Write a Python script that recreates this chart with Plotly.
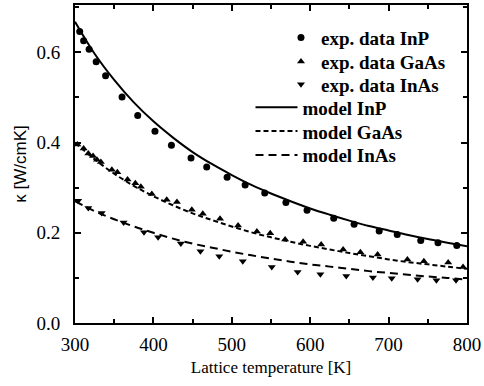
import plotly.graph_objects as go

# ---- data ----
T_exp_InP = [306, 311, 318, 327, 339, 360, 380, 402, 423, 448, 468, 494, 517, 542, 569, 596, 630, 656, 688, 711, 741, 763, 787]
k_exp_InP = [0.646, 0.626, 0.607, 0.579, 0.548, 0.501, 0.460, 0.425, 0.394, 0.366, 0.346, 0.323, 0.306, 0.288, 0.267, 0.250, 0.232, 0.219, 0.204, 0.196, 0.183, 0.178, 0.172]

T_exp_GaAs = [303, 311, 317, 323, 328, 333, 347, 354, 367, 377, 384, 398, 417, 430, 449, 463, 485, 508, 532, 549, 568, 591, 614, 642, 664, 686, 724, 745, 776, 795]
k_exp_GaAs = [0.396, 0.387, 0.376, 0.370, 0.362, 0.357, 0.340, 0.334, 0.318, 0.310, 0.302, 0.286, 0.273, 0.268, 0.251, 0.242, 0.231, 0.216, 0.203, 0.199, 0.185, 0.180, 0.174, 0.163, 0.157, 0.152, 0.141, 0.137, 0.134, 0.124]

T_exp_InAs = [304, 317, 334, 362, 388, 406, 435, 460, 484, 514, 551, 584, 613, 646, 680, 704, 737, 761, 786]
k_exp_InAs = [0.271, 0.255, 0.244, 0.223, 0.201, 0.190, 0.176, 0.159, 0.148, 0.137, 0.124, 0.113, 0.108, 0.104, 0.101, 0.099, 0.097, 0.095, 0.095]

T_model = [300, 325, 350, 375, 400, 425, 450, 475, 500, 525, 550, 575, 600, 625, 650, 675, 700, 725, 750, 775, 800]
k_model_InP = [0.668, 0.597, 0.539, 0.489, 0.447, 0.411, 0.379, 0.352, 0.328, 0.306, 0.287, 0.270, 0.254, 0.240, 0.227, 0.215, 0.205, 0.195, 0.186, 0.178, 0.170]
k_model_GaAs = [0.400, 0.363, 0.331, 0.304, 0.281, 0.261, 0.243, 0.228, 0.214, 0.201, 0.190, 0.180, 0.171, 0.163, 0.155, 0.148, 0.141, 0.135, 0.130, 0.125, 0.120]
k_model_InAs = [0.270, 0.248, 0.230, 0.214, 0.200, 0.187, 0.176, 0.167, 0.158, 0.150, 0.143, 0.136, 0.130, 0.125, 0.120, 0.115, 0.111, 0.107, 0.103, 0.100, 0.096]

x_ticks = [300, 400, 500, 600, 700, 800]
y_ticks = [0.0, 0.2, 0.4, 0.6]

SERIF = "Liberation Serif, Times New Roman, serif"
SANS = "Liberation Sans, Arial, sans-serif"

fig = go.Figure()

fig.add_trace(go.Scatter(x=T_exp_InP, y=k_exp_InP, mode="markers", name="exp. data InP",
                         marker=dict(symbol="circle", size=7, color="black"), legend="legend"))
fig.add_trace(go.Scatter(x=T_exp_GaAs, y=k_exp_GaAs, mode="markers", name="exp. data GaAs",
                         marker=dict(symbol="triangle-up", size=7, color="black"), legend="legend2"))
fig.add_trace(go.Scatter(x=T_exp_InAs, y=k_exp_InAs, mode="markers", name="exp. data InAs",
                         marker=dict(symbol="triangle-down", size=7, color="black"), legend="legend3"))

fig.add_trace(go.Scatter(x=T_model, y=k_model_InP, mode="lines", name="model InP",
                         line=dict(color="black", width=2, shape="spline"), legend="legend4"))
fig.add_trace(go.Scatter(x=T_model, y=k_model_GaAs, mode="lines", name="model GaAs",
                         line=dict(color="black", width=2, dash="5px,3px", shape="spline"), legend="legend5"))
fig.add_trace(go.Scatter(x=T_model, y=k_model_InAs, mode="lines", name="model InAs",
                         line=dict(color="black", width=2, dash="8px,5px", shape="spline"), legend="legend6"))

legend_font = dict(family=SERIF, size=19, color="black", weight="bold")


def leg(x, y, itemwidth=30):
    return dict(x=x, y=y, xanchor="left", yanchor="middle", font=legend_font,
                bgcolor="rgba(0,0,0,0)", itemwidth=itemwidth)


fig.update_layout(
    width=484, height=386,
    margin=dict(l=75, r=17, t=3, b=63),
    paper_bgcolor="white", plot_bgcolor="white",
    showlegend=True,
    legend=leg(0.5255, 0.897),
    legend2=leg(0.5255, 0.822),
    legend3=leg(0.5255, 0.750),
    legend4=leg(0.4477, 0.678, 42),
    legend5=leg(0.4477, 0.603, 42),
    legend6=leg(0.4477, 0.528, 42),
    xaxis=dict(
        range=[300, 800], tickmode="array", tickvals=x_ticks, ticktext=[str(v) for v in x_ticks],
        showline=True, linecolor="black", linewidth=2, mirror="allticks",
        ticks="inside", ticklen=6, tickwidth=1.5, tickcolor="black",
        minor=dict(dtick=50, ticks="inside", ticklen=4, tickwidth=1.5, tickcolor="black", showgrid=False),
        showgrid=False, zeroline=False,
        tickfont=dict(family=SERIF, size=19, color="black"),
        ticklabelstandoff=3,
        title=dict(text="Lattice temperature [K]", font=dict(family=SERIF, size=17, color="black"), standoff=7),
    ),
    yaxis=dict(
        range=[0, 0.705], tickmode="array", tickvals=y_ticks, ticktext=[f"{v:.1f}" for v in y_ticks],
        showline=True, linecolor="black", linewidth=2, mirror="allticks",
        ticks="inside", ticklen=6, tickwidth=1.5, tickcolor="black",
        minor=dict(dtick=0.1, ticks="inside", ticklen=4, tickwidth=1.5, tickcolor="black", showgrid=False),
        showgrid=False, zeroline=False,
        tickfont=dict(family=SERIF, size=19, color="black"),
        ticklabelstandoff=9,
        title=dict(text="κ [W/cmK]", font=dict(family=SANS, size=17, color="black"), standoff=6),
    ),
)

fig.write_html("out.html")
